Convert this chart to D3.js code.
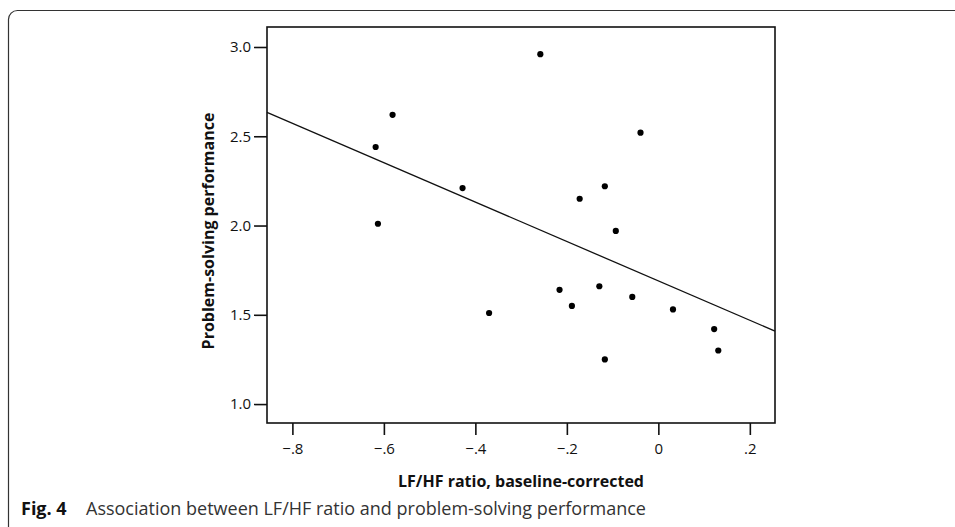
<!DOCTYPE html>
<html>
<head>
<meta charset="utf-8">
<script src="https://cdn.jsdelivr.net/npm/d3@7"></script>
<style>
    body { margin: 0; background: #fff; }
    svg { display: block; font-family: "Open Sans", "Noto Sans", sans-serif; }
    .tick line { stroke: #111; stroke-width: 1.6; }
</style>
</head>
<body>
<svg width="955" height="527"></svg>
<script>
// LF/HF ratio (baseline-corrected) vs problem-solving performance
var lfhf = [-0.581, -0.618, -0.613, -0.428, -0.258, -0.039, -0.117, -0.172, -0.093,
            -0.370, -0.216, -0.189, -0.129, -0.057, 0.032, -0.117, 0.122, 0.131];
var performance = [2.62, 2.44, 2.01, 2.21, 2.96, 2.52, 2.22, 2.15, 1.97,
                   1.51, 1.64, 1.55, 1.66, 1.60, 1.53, 1.25, 1.42, 1.30];
var xTicks = [-0.8, -0.6, -0.4, -0.2, 0, 0.2];
var yTicks = [1.0, 1.5, 2.0, 2.5, 3.0];
// fitted line
var fitIntercept = 1.690;
var fitSlope = -1.103;

var xLabel = "LF/HF ratio, baseline-corrected";
var yLabel = "Problem-solving performance";
var captionBold = "Fig. 4";
var captionText = "Association between LF/HF ratio and problem-solving performance";

var svg = d3.select("svg");

var plot = {left: 267, right: 775, top: 27, bottom: 423};

var x = d3.scaleLinear()
    .domain([-0.8555, 0.255])
    .range([plot.left, plot.right]);
var y = d3.scaleLinear()
    .domain([0.894, 3.112])
    .range([plot.bottom, plot.top]);

// outer panel border (only top-left corner is visible)
svg.append("rect")
    .attr("x", 8.5)
    .attr("y", 10.5)
    .attr("width", 1000)
    .attr("height", 700)
    .attr("rx", 9)
    .attr("fill", "none")
    .attr("stroke", "#333")
    .attr("stroke-width", 1.2);

// AXES
var fmtX = function(d) {
    if (d === 0) return "0";
    var s = d3.format(".1f")(Math.abs(d)).replace(/^0/, "");
    return (d < 0 ? "\u2212" : "") + s;
};

function styleAxis(g) {
    g.select(".domain").remove();
    g.attr("font-family", null).attr("font-size", 15);
    g.selectAll(".tick text").attr("fill", "#111");
}

svg.append("g")
    .attr("transform", "translate(0," + plot.bottom + ")")
    .call(d3.axisBottom(x).tickValues(xTicks).tickSize(12).tickPadding(8).tickFormat(fmtX))
    .call(styleAxis);

svg.append("g")
    .attr("transform", "translate(" + plot.left + ",0)")
    .call(d3.axisLeft(y).tickValues(yTicks).tickSize(13).tickPadding(3).tickFormat(d3.format(".1f")))
    .call(styleAxis);

// plot frame
svg.append("rect")
    .attr("x", plot.left)
    .attr("y", plot.top)
    .attr("width", plot.right - plot.left)
    .attr("height", plot.bottom - plot.top)
    .attr("fill", "none")
    .attr("stroke", "#111")
    .attr("stroke-width", 1.6);

// FIT LINE
var xd = x.domain();
svg.append("line")
    .attr("x1", x(xd[0]))
    .attr("y1", y(fitIntercept + fitSlope * xd[0]))
    .attr("x2", x(xd[1]))
    .attr("y2", y(fitIntercept + fitSlope * xd[1]))
    .attr("stroke", "#111")
    .attr("stroke-width", 1.3);

// POINTS
svg.selectAll(".pt")
    .data(lfhf)
    .enter()
    .append("circle")
    .attr("class", "pt")
    .attr("cx", function(d) { return x(d); })
    .attr("cy", function(d, i) { return y(performance[i]); })
    .attr("r", 3.1)
    .attr("fill", "#000");

// LABELS
svg.append("text")
    .attr("x", (plot.left + plot.right) / 2)
    .attr("y", 487)
    .attr("text-anchor", "middle")
    .attr("font-size", "16px")
    .attr("font-weight", "bold")
    .attr("fill", "#111")
    .text(xLabel);

svg.append("text")
    .attr("transform", "translate(214,231) rotate(-90)")
    .attr("text-anchor", "middle")
    .attr("font-size", "16px")
    .attr("font-weight", "bold")
    .attr("fill", "#111")
    .text(yLabel);

// CAPTION
svg.append("text")
    .attr("x", 21)
    .attr("y", 515)
    .attr("font-size", "18px")
    .attr("font-weight", "bold")
    .attr("fill", "#111")
    .text(captionBold);

svg.append("text")
    .attr("x", 86)
    .attr("y", 515)
    .attr("font-size", "18px")
    .attr("fill", "#333")
    .text(captionText);
</script>
</body>
</html>
